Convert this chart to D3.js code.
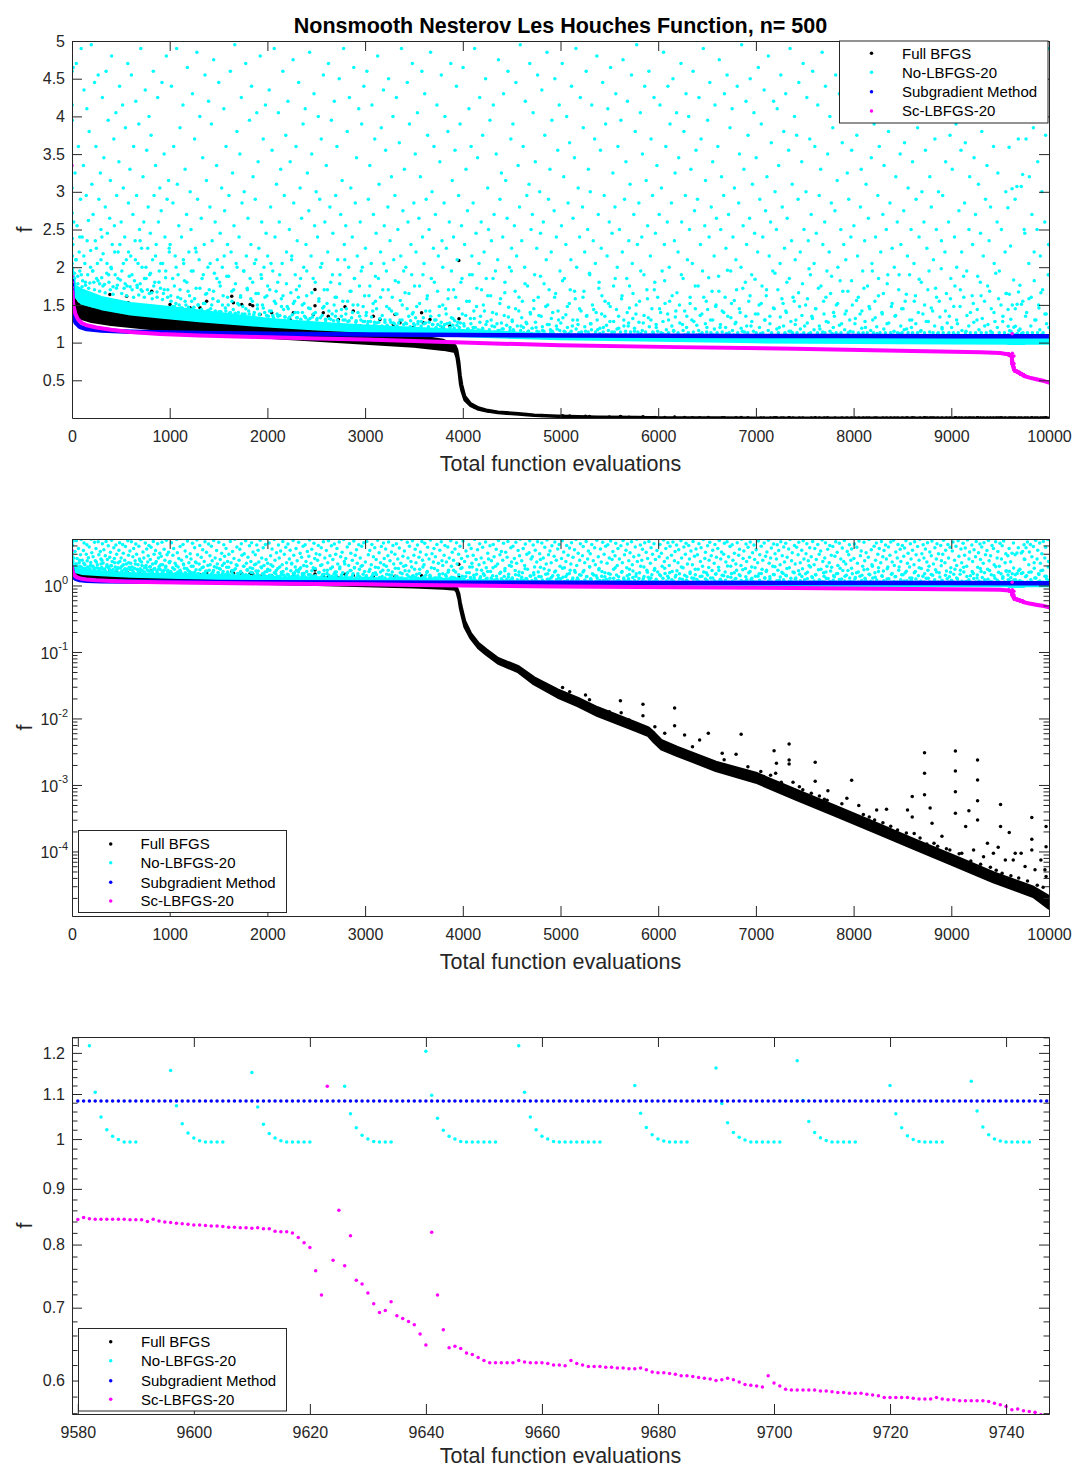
<!DOCTYPE html>
<html>
<head>
<meta charset="utf-8">
<script src="https://cdn.jsdelivr.net/npm/d3@7"></script>
<style>
  body { margin: 0; background: #fff; }
  svg { display: block; font-family: "Liberation Sans", Arial, Helvetica, sans-serif; }
</style>
</head>
<body>
<svg id="chart" width="1076" height="1468"></svg>
<script>
// ---------------- data ----------------
const seriesNames = ["Full BFGS", "No-LBFGS-20", "Subgradient Method", "Sc-LBFGS-20"];
const seriesColors = ["#000000", "#00ffff", "#0000ff", "#ff00ff"];

const evalTicks = [0, 1000, 2000, 3000, 4000, 5000, 6000, 7000, 8000, 9000, 10000];
const linearFTicks = [0.5, 1, 1.5, 2, 2.5, 3, 3.5, 4, 4.5, 5];
const logFTicks = [1e-4, 1e-3, 1e-2, 1e-1, 1];
const windowEvalTicks = [9580, 9600, 9620, 9640, 9660, 9680, 9700, 9720, 9740];
const windowFTicks = [0.6, 0.7, 0.8, 0.9, 1, 1.1, 1.2];

// Full BFGS: dense band [evaluation, lower f, upper f]
const bfgsBand = [
  [0,1.55,1.75],[10,1.42,1.62],[50,1.36,1.52],[100,1.32,1.49],[200,1.28,1.45],[400,1.24,1.41],
  [700,1.2,1.37],[1000,1.16,1.33],[1500,1.11,1.28],[2000,1.07,1.24],[2500,1.03,1.2],[3000,0.99,1.15],
  [3500,0.95,1.09],[3800,0.91,1.03],[3920,0.88,0.96],[3940,0.8,0.9],[3960,0.62,0.75],[3975,0.45,0.56],
  [3990,0.36,0.44],[4020,0.24,0.29],[4080,0.163,0.19],[4160,0.115,0.135],[4240,0.092,0.108],
  [4360,0.068,0.08],[4570,0.05,0.06],[4730,0.033,0.041],[4970,0.021,0.027],[5180,0.0155,0.02],
  [5380,0.011,0.0145],[5780,0.0065,0.0085],[5900,0.0055,0.0072],[5960,0.0044,0.006],[6030,0.0035,0.0047],
  [6190,0.0028,0.0037],[6590,0.00165,0.0022],[7000,0.0011,0.0015],[7400,0.00062,0.00085],
  [7810,0.00035,0.00048],[8220,0.000195,0.00027],[8620,0.00011,0.00015],[9030,0.000062,0.000085],
  [9430,0.000035,0.000048],[9840,0.000021,0.000029],[10000,0.000014,0.000021]
];
// Full BFGS: scattered evaluations above the band
const bfgsScatter = [
  [201,1.616],[218,1.35],[286,1.528],[320,1.572],[388,1.638],[457,1.55],[491,1.44],[559,1.616],[576,1.528],
  [611,1.44],[696,1.484],[730,1.374],[816,1.682],[833,1.462],[900,1.35],[1003,1.506],[1071,1.396],
  [1191,1.44],[1208,1.462],[1310,1.462],[1378,1.55],[1481,1.374],[1549,1.33],[1635,1.616],[1652,1.528],
  [1737,1.506],[1788,1.33],[1822,1.506],[1850,1.49],[1925,1.374],[1993,1.307],[2044,1.396],[2129,1.285],
  [2231,1.307],[2266,1.396],[2368,1.263],[2470,1.374],[2487,1.705],[2487,1.49],[2572,1.396],[2623,1.351],
  [2726,1.307],[2794,1.475],[2879,1.418],[2948,1.22],[3084,1.35],[3152,1.307],[3289,1.24],[3306,1.374],
  [3357,1.263],[3494,1.2],[3578,1.396],[3596,1.263],[3664,1.307],[3800,1.2],[3868,1.22],[3959,2.09],[3961,1.317],
  [4122,0.143],[4263,0.0901],[4446,0.0637],[4648,0.0451],[4811,0.0339],[5021,0.0291],[5094,0.0253],
  [5256,0.0226],[5297,0.0191],[5500,0.0126],[5613,0.0185],[5621,0.0122],[5702,0.0095],[5844,0.0163],
  [5844,0.011],[5966,0.0075],[6067,0.006],[6168,0.0144],[6168,0.0078],[6270,0.00565],[6351,0.00377],
  [6424,0.00475],[6513,0.006],[6655,0.003],[6675,0.00239],[6797,0.00289],[6849,0.00578],[6918,0.00188],
  [7080,0.00134],[7186,0.00328],[7202,0.0015],[7210,0.00212],[7283,0.00094],[7340,0.00413],[7340,0.00238],
  [7340,0.00207],[7445,0.00094],[7567,0.00075],[7607,0.00219],[7607,0.00114],[7729,0.00059],[7737,0.00082],
  [7810,0.00047],[7931,0.00063],[7980,0.00118],[8012,0.00033],[8053,0.00049],[8134,0.00026],[8215,0.000297],
  [8236,0.00042],[8337,0.00043],[8418,0.000187],[8499,0.00015],[8552,0.00042],[8600,0.00067],[8600,0.00033],
  [8620,0.000187],[8726,0.00306],[8726,0.0015],[8726,0.00071],[8783,0.00045],[8803,0.000265],[8823,0.000133],
  [8904,0.00017],[8985,0.000105],[9042,0.00324],[9042,0.00162],[9042,0.00079],[9042,0.000375],[9107,0.000094],
  [9147,0.000237],[9180,0.00041],[9228,0.000105],[9269,0.00238],[9269,0.00119],[9269,0.00058],[9269,0.000298],
  [9330,0.0000835],[9370,0.000133],[9431,0.000094],[9480,0.000116],[9504,0.00051],[9504,0.000237],
  [9553,0.0000745],[9593,0.000192],[9634,0.0000745],[9654,0.000094],[9715,0.000094],[9755,0.0000594],
  [9824,0.000323],[9824,0.000152],[9824,0.000105],[9857,0.000053],[9917,0.0000745],[9958,0.000053],
  [9970,0.000237],[9970,0.000118],[9970,0.0000419],
  [7050,0.0016],[7150,0.0014],[7260,0.0011],[7380,0.0011],[7480,0.00085],[7650,0.00068],[7700,0.00061],
  [7880,0.00052],[8100,0.00036],[8160,0.00033],[8300,0.00027],[8380,0.00024],[8450,0.00021],[8540,0.00019],
  [8680,0.00016],[8750,0.00013],[8860,0.00012],[8950,0.00011],[9080,0.000092],[9200,0.000072],[9300,0.000064],
  [9400,0.000058],[9460,0.000052],[9520,0.000047],[9610,0.000043],[9690,0.00004],[9780,0.000036],
  [9880,0.000031],[9940,0.000029]
];

// No-LBFGS-20: lowest values of each restart cycle (band floor and crest)
const noLbfgsFloor = [
  [0,1.9],[30,1.62],[100,1.52],[300,1.45],[600,1.38],[900,1.34],[1300,1.29],[2000,1.22],[2500,1.18],
  [3000,1.15],[3500,1.12],[4000,1.09],[5000,1.05],[6000,1.03],[7000,1.01],[8000,1.0],[9000,0.995],[10000,0.99]
];
const noLbfgsCrest = [
  [0,2.0],[30,1.75],[100,1.7],[300,1.6],[600,1.52],[900,1.48],[1300,1.42],[2000,1.31],[2500,1.26],
  [3000,1.22],[3500,1.19],[4000,1.16],[5000,1.1],[6000,1.07],[7000,1.05],[8000,1.045],[9000,1.04],[10000,1.04]
];
// No-LBFGS-20: scattered evaluations above the band
const noLbfgsCloud = [
  [1,4.6],[2,4.15],[3,3.95],[1,3.05],[2,2.72],[3,2.38],[4,2.15],[2,2.05],[6,1.98],[12,4.65],[18,2.6],[25,1.92],[31,3.25],[38,2.1],[44,4.7],[52,2.55],[58,1.88],[66,3.6],[73,2.2],[80,1.95],[87,2.9],[94,4.9],
  [104,2.4],[109,1.82],[117,3.35],[123,4.35],[131,2.05],[138,1.76],[146,2.95],[152,4.1],[161,1.9],[168,2.62],[176,3.8],[183,1.79],[191,2.22],[197,4.95],
  [203,3.1],[210,1.95],[216,2.7],[224,1.8],[231,4.45],[239,2.35],[245,3.6],[252,1.85],[260,2.05],[268,4.55],[275,2.9],[283,1.78],[290,3.25],[296,2.5],
  [304,1.86],[311,4.25],[318,2.18],[326,3.45],[333,1.77],[341,2.8],[349,4.6],[356,1.92],[362,2.45],[371,3.95],[378,1.8],[386,2.65],[393,3.15],[399,2.0],
  [405,4.8],[412,2.3],[420,1.74],[428,3.7],[434,2.55],[442,1.9],[449,4.05],[457,2.95],[464,1.76],[472,2.2],[480,3.4],[487,4.4],[495,1.83],
  [503,2.6],[510,1.95],[518,4.15],[525,3.05],[533,1.72],[540,2.4],[547,3.85],[556,2.1],[563,1.75],[571,4.7],[578,2.85],[586,1.88],[593,3.3],
  [601,2.15],[608,4.55],[616,1.7],[623,2.7],[631,3.6],[639,1.82],[646,2.35],[653,4.2],[661,2.95],[668,1.73],[676,2.05],[684,3.9],[691,2.5],[698,1.78],
  [704,4.9],[712,2.25],[719,1.68],[727,3.2],[735,2.6],[742,1.85],[750,4.35],[757,2.0],[765,3.55],[772,1.7],[780,2.8],[788,4.0],[795,1.9],
  [802,2.45],[809,3.75],[817,1.66],[825,2.1],[832,4.6],[840,2.95],[847,1.8],[855,3.35],[862,2.3],[870,1.67],[877,4.25],[885,2.6],[893,1.95],[899,3.05],
  [906,1.72],[913,2.75],[921,4.45],[928,2.05],[936,1.65],[943,3.5],[951,2.4],[958,1.86],[966,4.8],[973,2.9],[981,1.7],[988,3.15],[996,2.2],
  [1004,2.3],[1011,1.62],[1018,4.4],[1026,1.48],[1033,2.85],[1041,3.6],[1048,1.75],[1056,2.15],[1063,1.52],[1071,4.9],[1078,3.1],[1086,1.9],[1093,2.55],[1099,1.45],
  [1106,3.85],[1113,1.58],[1121,2.4],[1128,1.46],[1136,4.15],[1143,2.05],[1151,1.82],[1158,3.3],[1166,1.5],[1173,2.7],[1181,4.65],[1188,1.68],[1196,2.2],
  [1203,1.44],[1210,3.0],[1218,2.5],[1225,1.55],[1233,4.3],[1240,1.95],[1248,1.47],[1255,3.7],[1263,2.25],[1270,1.72],[1278,4.85],[1285,2.9],[1293,1.5],
  [1301,2.1],[1308,4.0],[1316,1.43],[1323,2.65],[1331,1.85],[1338,3.45],[1346,1.52],[1353,2.3],[1361,4.55],[1368,1.64],[1376,3.15],[1383,1.42],[1391,2.0],[1398,4.2],
  [1405,1.7],[1412,2.8],[1420,1.45],[1427,3.9],[1435,2.35],[1442,1.58],[1450,4.75],[1457,1.92],[1465,2.6],[1472,1.4],[1480,3.35],[1487,2.1],[1495,1.55],
  [1502,4.45],[1509,1.8],[1517,2.45],[1524,1.41],[1532,3.05],[1539,2.0],[1547,1.62],[1554,4.1],[1562,2.75],[1569,1.46],[1577,3.6],[1584,1.88],[1592,2.3],[1599,1.5],
  [1606,2.95],[1613,1.39],[1621,4.6],[1628,2.2],[1636,1.68],[1643,3.25],[1651,1.44],[1658,2.55],[1666,4.95],[1673,1.78],[1681,2.05],[1688,3.8],[1696,1.52],
  [1703,1.4],[1710,2.4],[1718,3.5],[1725,1.6],[1733,4.25],[1740,2.85],[1748,1.48],[1755,1.95],[1763,3.0],[1770,1.38],[1778,4.7],[1785,2.15],[1793,1.72],
  [1801,2.65],[1808,1.42],[1816,3.95],[1823,1.85],[1831,2.3],[1838,4.4],[1846,1.55],[1853,3.2],[1861,1.37],[1868,2.05],[1876,2.9],[1883,1.65],[1891,4.05],[1898,1.45],
  [1905,3.4],[1912,2.25],[1920,1.38],[1927,4.8],[1935,1.9],[1942,2.6],[1950,1.5],[1957,3.7],[1965,2.0],[1972,1.4],[1980,4.15],[1987,2.45],[1995,1.62],
  [2003,2.15],[2010,1.35],[2018,4.35],[2025,1.7],[2033,2.8],[2040,1.42],[2048,3.55],[2055,1.95],[2063,1.33],[2070,4.9],[2078,2.4],[2085,1.52],[2093,3.1],[2099,1.38],
  [2106,1.8],[2113,4.05],[2121,2.6],[2128,1.36],[2136,3.3],[2143,1.58],[2151,2.05],[2158,4.6],[2166,1.44],[2173,2.95],[2181,1.34],[2188,3.75],[2196,2.2],
  [2203,1.48],[2210,4.2],[2218,1.32],[2225,2.5],[2233,3.4],[2240,1.66],[2248,2.1],[2255,1.37],[2263,4.75],[2270,2.85],[2278,1.55],[2285,1.9],[2293,3.6],[2299,1.33],
  [2305,2.35],[2312,1.4],[2320,4.45],[2327,1.75],[2335,3.05],[2342,1.31],[2350,2.65],[2357,1.5],[2365,3.9],[2372,2.0],[2380,1.35],[2387,4.1],[2395,2.3],
  [2402,1.62],[2409,3.25],[2417,1.3],[2424,2.75],[2432,4.85],[2439,1.45],[2447,2.15],[2454,3.5],[2462,1.34],[2469,1.85],[2477,4.3],[2484,2.55],[2492,1.4],[2499,3.0],
  [2506,1.3],[2513,2.4],[2521,4.0],[2528,1.58],[2536,2.9],[2543,1.33],[2551,3.7],[2558,2.05],[2566,1.46],[2573,4.55],[2581,1.7],[2588,2.6],[2596,1.29],
  [2603,3.35],[2610,1.52],[2618,2.2],[2625,4.7],[2633,1.32],[2640,2.8],[2648,1.8],[2655,3.95],[2663,1.38],[2670,2.45],[2678,1.29],[2685,4.2],[2693,1.6],[2699,2.95],
  [2705,1.42],[2712,3.6],[2720,2.1],[2727,1.28],[2735,4.5],[2742,1.9],[2750,2.7],[2757,1.35],[2765,3.15],[2772,1.55],[2780,4.9],[2787,2.3],[2795,1.3],
  [2802,2.55],[2809,1.45],[2817,3.8],[2824,1.28],[2832,2.0],[2839,4.25],[2847,1.68],[2854,3.05],[2862,1.33],[2869,2.4],[2877,1.5],[2884,4.65],[2892,1.85],[2899,2.85],
  [2905,1.27],[2912,3.45],[2920,2.15],[2927,1.4],[2935,4.1],[2942,1.75],[2950,2.6],[2957,1.3],[2965,3.9],[2972,2.0],[2980,1.48],[2987,4.4],[2995,1.28],
  [3003,2.25],[3010,1.36],[3018,4.6],[3025,1.24],[3033,2.9],[3040,1.62],[3048,3.35],[3055,1.28],[3063,2.05],[3070,4.15],[3078,1.42],[3085,2.7],[3093,1.23],[3099,3.7],
  [3106,1.55],[3113,2.45],[3121,1.26],[3128,4.8],[3136,1.85],[3143,3.1],[3151,1.32],[3158,2.2],[3166,3.85],[3173,1.22],[3181,1.7],[3188,4.35],[3196,2.55],
  [3203,1.3],[3210,3.55],[3218,1.95],[3225,1.23],[3233,2.8],[3240,4.5],[3248,1.45],[3255,2.35],[3263,1.27],[3270,3.2],[3278,1.6],[3285,4.0],[3293,2.1],[3299,1.25],
  [3305,2.95],[3312,1.38],[3320,4.25],[3327,1.22],[3335,2.5],[3342,1.8],[3350,3.65],[3357,1.3],[3365,2.15],[3372,4.9],[3380,1.5],[3387,2.75],[3395,1.24],
  [3402,3.3],[3409,1.66],[3417,2.0],[3424,1.25],[3432,4.45],[3439,2.6],[3447,1.35],[3454,3.9],[3462,1.21],[3469,2.3],[3477,1.9],[3484,4.7],[3492,1.4],[3499,2.85],
  [3506,1.23],[3513,3.5],[3521,2.2],[3528,1.48],[3536,4.05],[3543,1.28],[3551,2.65],[3558,1.75],[3566,3.2],[3573,1.22],[3581,4.6],[3588,2.4],[3596,1.33],
  [3603,2.05],[3610,4.3],[3618,1.26],[3625,2.9],[3633,1.58],[3640,3.75],[3648,1.21],[3655,2.5],[3663,1.42],[3670,4.85],[3678,1.85],[3685,3.0],[3693,1.24],[3699,2.25],
  [3705,3.6],[3712,1.3],[3720,2.7],[3727,1.2],[3735,4.15],[3742,1.68],[3750,2.15],[3757,1.36],[3765,3.4],[3772,1.22],[3780,4.55],[3787,2.35],[3795,1.5],
  [3802,1.21],[3809,2.85],[3817,4.0],[3824,1.45],[3832,2.25],[3839,1.25],[3847,3.8],[3854,1.7],[3862,2.6],[3869,1.2],[3877,4.7],[3884,1.95],[3892,3.15],[3899,1.32],
  [3905,2.4],[3912,1.19],[3920,3.55],[3927,1.6],[3935,4.4],[3942,2.1],[3950,1.27],[3957,2.95],[3965,1.2],[3972,3.9],[3980,1.8],[3987,2.55],[3995,1.38],
  [4003,4.65],[4010,1.25],[4018,2.3],[4025,1.15],[4033,3.3],[4040,1.55],[4048,2.75],[4055,1.18],[4063,4.1],[4070,1.9],[4078,1.32],[4085,3.6],[4093,2.15],[4099,1.16],
  [4106,2.85],[4113,1.42],[4121,4.9],[4128,1.2],[4136,2.45],[4143,1.72],[4151,3.45],[4158,1.14],[4166,2.05],[4173,4.25],[4181,1.35],[4188,2.6],[4196,1.17],
  [4203,3.75],[4210,1.5],[4218,2.2],[4225,1.15],[4233,4.5],[4240,1.85],[4248,1.28],[4255,3.05],[4263,2.5],[4270,1.13],[4278,3.95],[4285,1.62],[4293,2.35],[4299,1.22],
  [4305,1.4],[4312,4.15],[4320,2.7],[4327,1.14],[4335,1.95],[4342,3.5],[4350,1.25],[4357,2.1],[4365,4.75],[4372,1.16],[4380,2.9],[4387,1.58],[4395,3.25],
  [4402,1.18],[4409,2.4],[4417,4.3],[4424,1.36],[4432,1.8],[4439,3.15],[4447,1.13],[4454,2.65],[4462,4.6],[4469,1.47],[4477,2.0],[4484,1.2],[4492,3.7],[4499,2.25],
  [4506,1.3],[4513,3.9],[4521,1.15],[4528,2.55],[4536,1.68],[4543,4.45],[4551,2.15],[4558,1.12],[4566,3.35],[4573,1.42],[4581,2.8],[4588,4.95],[4596,1.22],
  [4603,2.35],[4610,1.55],[4618,3.6],[4625,1.13],[4633,2.0],[4640,4.2],[4648,1.27],[4655,2.95],[4663,1.75],[4670,1.15],[4678,3.1],[4685,4.7],[4693,1.38],[4699,2.5],
  [4705,1.12],[4712,2.7],[4720,4.05],[4727,1.45],[4735,1.9],[4742,3.4],[4750,1.2],[4757,2.25],[4765,4.55],[4772,1.6],[4780,1.14],[4787,3.0],[4795,2.45],
  [4802,1.35],[4809,4.35],[4817,1.16],[4824,2.6],[4832,1.78],[4839,3.75],[4847,1.11],[4854,2.1],[4862,4.85],[4869,1.5],[4877,2.9],[4884,1.24],[4892,3.3],[4899,1.13],
  [4905,2.2],[4912,3.95],[4920,1.4],[4927,1.12],[4935,2.75],[4942,4.5],[4950,1.65],[4957,2.4],[4965,1.18],[4972,3.55],[4980,1.3],[4987,4.15],[4995,1.95],
  [5003,1.11],[5010,2.55],[5018,4.7],[5025,1.33],[5033,3.2],[5040,1.85],[5048,1.14],[5055,2.3],[5063,4.0],[5070,1.48],[5078,2.85],[5085,1.12],[5093,3.65],[5099,1.7],
  [5106,2.1],[5113,4.4],[5121,1.22],[5128,2.65],[5136,1.1],[5143,3.45],[5151,1.58],[5158,4.9],[5166,2.0],[5173,1.3],[5181,3.05],[5188,1.13],[5196,2.4],
  [5203,4.25],[5210,1.42],[5218,1.11],[5225,2.8],[5233,3.85],[5240,1.68],[5248,2.2],[5255,1.15],[5263,4.6],[5270,1.36],[5278,2.5],[5285,3.3],[5293,1.1],[5299,1.9],
  [5305,3.0],[5312,1.25],[5320,4.15],[5327,1.5],[5335,2.35],[5342,1.1],[5350,3.7],[5357,2.05],[5365,1.4],[5372,4.8],[5380,1.17],[5387,2.7],[5395,1.8],
  [5402,1.12],[5409,3.55],[5417,2.25],[5424,1.62],[5432,4.45],[5439,1.2],[5447,2.95],[5454,1.35],[5462,3.9],[5469,1.1],[5477,2.15],[5484,4.1],[5492,1.52],[5499,2.6],
  [5506,1.28],[5513,4.65],[5521,1.1],[5528,2.45],[5536,3.25],[5543,1.75],[5551,1.14],[5558,2.8],[5566,4.3],[5573,1.44],[5581,2.0],[5588,3.6],[5596,1.19],
  [5603,2.5],[5610,1.09],[5618,3.95],[5625,1.58],[5633,2.2],[5640,4.75],[5648,1.3],[5655,2.9],[5663,1.11],[5670,3.4],[5678,1.85],[5685,4.2],[5693,1.22],[5699,2.35],
  [5705,1.46],[5712,3.1],[5720,1.1],[5727,4.55],[5735,2.05],[5742,1.65],[5750,2.7],[5757,1.15],[5765,3.8],[5772,1.38],[5780,4.95],[5787,2.3],[5795,1.1],
  [5802,2.85],[5809,1.55],[5817,4.05],[5824,1.12],[5832,2.4],[5839,3.5],[5847,1.26],[5854,1.9],[5862,4.4],[5869,1.09],[5877,3.15],[5884,1.7],[5892,2.55],[5899,1.33],
  [5905,4.6],[5912,1.1],[5920,2.15],[5927,3.7],[5935,1.45],[5942,2.95],[5950,1.13],[5957,4.25],[5965,1.8],[5972,2.45],[5980,1.2],[5987,3.35],[5995,1.6],
  [6003,1.09],[6010,2.7],[6018,4.15],[6025,1.4],[6033,3.05],[6040,1.95],[6048,1.12],[6055,4.85],[6063,2.3],[6070,1.52],[6078,3.6],[6085,1.1],[6093,2.6],[6099,4.4],
  [6106,1.3],[6113,2.0],[6121,3.9],[6128,1.08],[6136,2.85],[6143,1.62],[6151,4.5],[6158,1.16],[6166,2.35],[6173,3.25],[6181,1.42],[6188,4.05],[6196,1.1],
  [6203,2.2],[6210,3.45],[6218,1.5],[6225,1.09],[6233,4.7],[6240,2.6],[6248,1.24],[6255,1.85],[6263,3.8],[6270,1.1],[6278,2.95],[6285,4.3],[6293,1.35],[6299,2.1],
  [6305,1.12],[6312,4.0],[6320,2.5],[6327,1.6],[6335,3.3],[6342,1.08],[6350,2.05],[6357,4.6],[6365,1.28],[6372,2.75],[6380,1.45],[6387,3.55],[6395,1.1],
  [6402,2.9],[6409,1.75],[6417,4.25],[6424,1.11],[6432,2.3],[6439,3.7],[6447,1.38],[6454,1.95],[6462,4.9],[6469,1.09],[6477,2.55],[6484,3.15],[6492,1.55],[6499,1.2],
  [6506,3.95],[6513,1.09],[6521,2.4],[6528,4.45],[6536,1.3],[6543,2.8],[6551,1.68],[6558,3.4],[6566,1.1],[6573,2.15],[6581,4.15],[6588,1.48],[6596,2.65],
  [6603,1.08],[6610,3.6],[6618,1.88],[6625,4.75],[6633,1.2],[6640,2.5],[6648,3.2],[6655,1.42],[6663,1.09],[6670,2.95],[6678,4.3],[6685,1.6],[6693,2.25],[6699,1.12],
  [6705,4.55],[6712,1.35],[6720,2.7],[6727,1.08],[6735,3.85],[6742,1.95],[6750,1.52],[6757,4.1],[6765,2.4],[6772,1.1],[6780,3.05],[6787,1.25],[6795,2.1],
  [6802,1.7],[6809,4.4],[6817,1.09],[6824,2.85],[6832,3.5],[6839,1.4],[6847,2.0],[6854,4.95],[6862,1.15],[6869,2.55],[6877,3.3],[6884,1.08],[6892,1.8],[6899,4.2],
  [6905,2.3],[6912,1.1],[6920,3.75],[6927,1.55],[6935,2.65],[6942,4.5],[6950,1.22],[6957,1.9],[6965,3.1],[6972,1.08],[6980,4.05],[6987,2.45],[6995,1.38],
  [7003,3.45],[7010,1.08],[7018,2.2],[7025,4.65],[7033,1.5],[7040,2.9],[7048,1.12],[7055,3.9],[7063,1.75],[7070,2.4],[7078,1.09],[7085,4.35],[7093,1.3],[7099,2.75],
  [7106,1.62],[7113,3.2],[7121,1.08],[7128,4.8],[7136,2.15],[7143,1.35],[7151,2.6],[7158,3.65],[7166,1.1],[7173,1.95],[7181,4.2],[7188,1.45],[7196,3.0],
  [7203,1.09],[7210,2.5],[7218,4.1],[7225,1.7],[7233,3.35],[7240,1.2],[7248,2.05],[7255,4.55],[7263,1.08],[7270,2.8],[7278,1.52],[7285,3.8],[7293,2.25],[7299,1.11],
  [7305,4.3],[7312,1.4],[7320,2.65],[7327,1.08],[7335,3.55],[7342,1.85],[7350,4.9],[7357,1.15],[7365,2.35],[7372,3.1],[7380,1.6],[7387,1.09],[7395,4.0],
  [7402,2.1],[7409,1.3],[7417,3.75],[7424,1.08],[7432,2.9],[7439,4.45],[7447,1.48],[7454,2.2],[7462,1.1],[7469,3.4],[7477,1.78],[7484,4.7],[7492,2.5],[7499,1.22],
  [7506,1.08],[7513,3.0],[7521,4.25],[7528,1.58],[7536,2.35],[7543,1.12],[7551,3.7],[7558,1.9],[7566,2.7],[7573,1.35],[7581,4.6],[7588,1.09],[7596,2.05],
  [7603,3.6],[7610,1.45],[7618,2.45],[7625,1.08],[7633,4.15],[7640,1.72],[7648,2.95],[7655,1.18],[7663,3.3],[7670,1.1],[7678,4.85],[7685,2.3],[7693,1.55],[7699,1.08],
  [7705,2.6],[7712,4.4],[7720,1.28],[7727,1.95],[7735,3.5],[7742,1.09],[7750,2.2],[7757,4.0],[7765,1.65],[7772,2.85],[7780,1.12],[7787,3.85],[7795,1.4],
  [7802,1.08],[7809,2.75],[7817,4.55],[7824,1.5],[7832,3.15],[7839,2.0],[7847,1.1],[7854,4.3],[7862,1.82],[7869,2.5],[7877,1.25],[7884,3.65],[7892,1.08],[7899,2.3],
  [7905,4.75],[7912,1.38],[7920,2.1],[7927,1.08],[7935,3.25],[7942,1.68],[7950,2.9],[7957,4.1],[7965,1.15],[7972,2.4],[7980,3.55],[7987,1.5],[7995,1.09],
  [8003,2.55],[8010,4.2],[8018,1.32],[8025,1.08],[8033,3.75],[8040,2.15],[8048,1.6],[8055,4.65],[8063,1.1],[8070,2.8],[8078,3.3],[8085,1.42],[8093,1.95],[8099,1.08],
  [8106,4.45],[8113,2.35],[8121,1.2],[8128,3.1],[8136,1.08],[8143,1.75],[8151,2.65],[8158,4.9],[8166,1.45],[8173,1.09],[8181,3.45],[8188,2.05],[8196,1.3],
  [8203,1.08],[8210,3.9],[8218,1.55],[8225,2.4],[8233,4.35],[8240,1.12],[8248,2.95],[8255,1.85],[8263,3.6],[8270,1.08],[8278,2.2],[8285,4.6],[8293,1.38],[8299,2.7],
  [8305,1.65],[8312,3.35],[8320,1.09],[8327,4.05],[8335,2.5],[8342,1.25],[8350,1.9],[8357,3.8],[8365,1.08],[8372,2.85],[8380,4.5],[8387,1.48],[8395,2.25],
  [8402,1.1],[8409,4.8],[8417,2.0],[8424,1.35],[8432,3.2],[8439,1.08],[8447,2.6],[8454,4.15],[8462,1.7],[8469,1.12],[8477,3.5],[8484,2.3],[8492,1.45],[8499,4.0],
  [8506,1.08],[8513,2.75],[8521,3.65],[8528,1.55],[8536,4.7],[8543,1.18],[8551,2.15],[8558,3.05],[8566,1.08],[8573,1.9],[8581,4.25],[8588,2.5],[8596,1.3],
  [8603,3.4],[8610,1.1],[8618,2.05],[8625,4.55],[8633,1.62],[8640,2.9],[8648,1.08],[8655,3.85],[8663,1.4],[8670,2.4],[8678,4.95],[8685,1.15],[8693,1.8],[8699,3.0],
  [8705,1.08],[8712,4.1],[8720,2.6],[8727,1.5],[8735,3.55],[8742,1.09],[8750,2.25],[8757,4.4],[8765,1.28],[8772,1.95],[8780,3.2],[8787,1.08],[8795,2.8],
  [8802,4.65],[8809,1.42],[8817,2.1],[8824,1.08],[8832,3.7],[8839,1.72],[8847,2.5],[8854,4.25],[8862,1.12],[8869,3.0],[8877,1.55],[8884,1.08],[8892,4.0],[8899,2.35],
  [8905,1.2],[8912,2.95],[8920,4.8],[8927,1.08],[8935,2.2],[8942,3.4],[8950,1.65],[8957,1.1],[8965,4.15],[8972,2.6],[8980,1.35],[8987,3.75],[8995,1.85],
  [9003,1.08],[9010,3.3],[9018,4.5],[9025,1.48],[9033,2.4],[9040,1.1],[9048,3.9],[9055,2.0],[9063,1.25],[9070,4.7],[9078,2.75],[9085,1.08],[9093,1.7],[9099,3.55],
  [9106,2.2],[9113,1.08],[9121,4.3],[9128,1.6],[9136,2.85],[9143,3.65],[9151,1.15],[9158,1.95],[9166,4.85],[9173,1.08],[9181,2.5],[9188,3.2],[9196,1.4],
  [9203,1.09],[9210,4.05],[9218,2.3],[9225,1.52],[9233,3.45],[9240,1.08],[9248,2.7],[9255,4.6],[9263,1.3],[9270,1.88],[9278,3.1],[9285,1.08],[9293,4.2],[9299,2.45],
  [9305,1.62],[9312,3.8],[9320,1.08],[9327,2.15],[9335,4.4],[9342,1.22],[9350,2.9],[9357,1.08],[9365,3.35],[9372,1.75],[9380,4.75],[9387,2.35],[9395,1.1],
  [9402,2.8],[9409,1.45],[9417,4.0],[9424,1.08],[9432,3.6],[9439,2.05],[9447,1.28],[9454,4.55],[9462,1.08],[9469,2.6],[9477,3.25],[9484,1.58],[9492,1.95],[9499,4.3],
  [9506,1.08],[9513,2.5],[9521,3.95],[9528,1.35],[9536,4.65],[9543,1.1],[9551,2.2],[9558,3.0],[9566,1.65],[9572,1.08],
  [9752,2.45],[9758,1.08],[9765,3.7],[9771,1.4],[9779,4.5],[9786,1.1],[9793,2.05],[9799,3.2],
  [9803,1.08],[9810,4.15],[9818,1.6],[9825,2.7],[9833,1.09],[9840,3.85],[9848,2.2],[9855,1.3],[9863,4.75],[9870,1.08],[9878,2.5],[9885,3.4],[9893,1.5],[9899,1.08],
  [9905,4.35],[9912,2.15],[9920,1.1],[9927,3.0],[9935,1.7],[9942,4.6],[9950,1.08],[9957,2.6],[9965,3.75],[9972,1.38],[9980,1.08],[9987,4.9],[9995,2.3],[9999,1.2]
];
// No-LBFGS-20: the denser layer of evaluations just above the band
const noLbfgsCloudLower = [
  [9,2.3],[26,1.85],[44,2.1],[60,1.78],[79,2.4],[95,1.9],[103,1.74],[121,2.15],[137,1.8],[155,2.35],[171,1.72],[190,2.0],
  [214,1.95],[230,1.7],[249,2.25],[266,1.82],[283,1.68],[297,2.1],[306,2.4],[317,1.75],[340,1.66],[358,2.05],[375,1.9],[392,1.7],
  [403,1.98],[421,1.64],[437,2.2],[455,1.72],[471,1.85],[490,2.3],[509,1.65],[526,2.05],[544,1.78],[560,1.62],[579,2.2],[595,1.74],
  [614,1.9],[630,1.6],[649,2.1],[666,1.76],[683,1.63],[697,2.35],[706,1.7],[717,2.0],[740,1.6],[758,1.85],[775,2.25],[792,1.65],
  [803,1.92],[821,1.58],[837,1.75],[855,2.15],[871,1.6],[890,1.8],[909,2.05],[926,1.57],[944,1.7],[960,1.95],[979,1.6],[995,2.25],
  [1014,1.55],[1030,1.85],[1049,1.48],[1066,2.0],[1083,1.6],[1097,1.5],[1106,1.7],[1117,1.46],[1140,2.1],[1158,1.55],[1175,1.8],[1192,1.47],
  [1203,1.62],[1221,1.95],[1237,1.45],[1255,1.58],[1271,2.2],[1290,1.5],[1309,1.72],[1326,1.44],[1344,1.9],[1360,1.52],[1379,1.65],[1395,1.43],
  [1414,2.05],[1430,1.5],[1449,1.68],[1466,1.42],[1483,1.85],[1497,1.55],[1506,1.41],[1517,1.75],[1540,1.5],[1558,2.15],[1575,1.42],[1592,1.6],
  [1603,1.88],[1621,1.4],[1637,1.55],[1655,1.7],[1671,1.39],[1690,2.0],[1709,1.5],[1726,1.62],[1744,1.38],[1760,1.95],[1779,1.45],[1795,1.7],
  [1814,1.38],[1830,1.58],[1849,1.8],[1866,1.4],[1883,2.1],[1897,1.5],[1906,1.65],[1917,1.37],[1940,1.85],[1958,1.46],[1975,1.6],[1992,1.36],
  [2003,1.75],[2021,1.42],[2037,2.05],[2055,1.36],[2071,1.55],[2090,1.68],[2109,1.35],[2126,1.9],[2144,1.48],[2160,1.62],[2179,1.34],[2195,1.78],
  [2214,1.45],[2230,1.34],[2249,2.15],[2266,1.52],[2283,1.4],[2297,1.7],[2306,1.33],[2317,1.6],[2340,1.85],[2358,1.4],[2375,1.52],[2392,1.33],
  [2403,1.95],[2421,1.46],[2437,1.32],[2455,1.66],[2471,1.38],[2490,1.8],[2509,1.32],[2526,1.55],[2544,2.0],[2560,1.36],[2579,1.48],[2595,1.31],
  [2614,1.7],[2630,1.42],[2649,1.31],[2666,1.9],[2683,1.5],[2697,1.35],[2706,1.6],[2717,1.3],[2740,1.78],[2758,1.44],[2775,1.3],[2792,2.1],
  [2803,1.38],[2821,1.55],[2837,1.29],[2855,1.68],[2871,1.4],[2890,1.85],[2909,1.29],[2926,1.5],[2944,1.35],[2960,1.95],[2979,1.28],[2995,1.62],
  [3014,1.4],[3030,1.28],[3049,1.75],[3066,1.34],[3083,1.52],[3097,1.27],[3106,1.88],[3117,1.45],[3140,1.27],[3158,1.6],[3175,1.36],[3192,2.05],
  [3203,1.27],[3221,1.48],[3237,1.7],[3255,1.3],[3271,1.42],[3290,1.26],[3309,1.82],[3326,1.38],[3344,1.26],[3360,1.56],[3379,1.3],[3395,1.95],
  [3414,1.26],[3430,1.45],[3449,1.65],[3466,1.29],[3483,1.38],[3497,1.25],[3506,1.75],[3517,1.33],[3540,1.25],[3558,1.52],[3575,1.28],[3592,1.9],
  [3603,1.25],[3621,1.42],[3637,1.62],[3655,1.27],[3671,1.35],[3690,1.24],[3709,1.8],[3726,1.3],[3744,1.24],[3760,1.48],[3779,1.27],[3795,2.0],
  [3814,1.24],[3830,1.38],[3849,1.58],[3866,1.26],[3883,1.33],[3897,1.23],[3906,1.7],[3917,1.29],[3940,1.23],[3958,1.45],[3975,1.26],[3992,1.85],
  [4014,1.22],[4030,1.36],[4049,1.18],[4066,1.55],[4083,1.25],[4097,1.9],[4106,1.2],[4117,1.32],[4140,1.48],[4158,1.17],[4175,1.27],[4192,1.7],
  [4203,1.19],[4221,1.42],[4237,1.24],[4255,1.62],[4271,1.17],[4290,1.3],[4309,1.85],[4326,1.21],[4344,1.38],[4360,1.16],[4379,1.52],[4395,1.26],
  [4414,1.18],[4430,1.66],[4449,1.23],[4466,1.34],[4483,1.16],[4497,1.95],[4506,1.28],[4517,1.17],[4540,1.45],[4558,1.22],[4575,1.6],[4592,1.16],
  [4603,1.33],[4621,1.2],[4637,1.78],[4655,1.25],[4671,1.15],[4690,1.4],[4709,1.19],[4726,1.56],[4744,1.27],[4760,1.15],[4779,1.36],[4795,1.88],
  [4814,1.21],[4830,1.15],[4849,1.48],[4866,1.24],[4883,1.7],[4897,1.17],[4906,1.32],[4917,1.15],[4940,1.6],[4958,1.22],[4975,1.42],[4992,1.16],
  [5003,1.26],[5021,1.82],[5037,1.15],[5055,1.37],[5071,1.2],[5090,1.52],[5109,1.15],[5126,1.3],[5144,1.68],[5160,1.18],[5179,1.24],[5195,1.45],
  [5214,1.14],[5230,1.6],[5249,1.21],[5266,1.35],[5283,1.14],[5297,1.92],[5306,1.25],[5317,1.17],[5340,1.44],[5358,1.14],[5375,1.3],[5392,1.72],
  [5403,1.19],[5421,1.38],[5437,1.14],[5455,1.55],[5471,1.23],[5490,1.16],[5509,1.48],[5526,1.14],[5544,1.28],[5560,1.85],[5579,1.18],[5595,1.35],
  [5614,1.14],[5630,1.62],[5649,1.22],[5666,1.15],[5683,1.4],[5697,1.26],[5706,1.75],[5717,1.14],[5740,1.32],[5758,1.19],[5775,1.5],[5792,1.14],
  [5803,1.27],[5821,1.95],[5837,1.16],[5855,1.36],[5871,1.14],[5890,1.58],[5909,1.21],[5926,1.3],[5944,1.14],[5960,1.7],[5979,1.24],[5995,1.15],
  [6014,1.45],[6030,1.13],[6049,1.28],[6066,1.82],[6083,1.17],[6097,1.38],[6106,1.13],[6117,1.55],[6140,1.22],[6158,1.15],[6175,1.34],[6192,1.66],
  [6203,1.13],[6221,1.26],[6237,1.9],[6255,1.16],[6271,1.42],[6290,1.2],[6309,1.13],[6326,1.52],[6344,1.3],[6360,1.14],[6379,1.75],[6395,1.23],
  [6414,1.16],[6430,1.36],[6449,1.13],[6466,1.6],[6483,1.25],[6497,1.14],[6506,1.44],[6517,1.86],[6540,1.13],[6558,1.3],[6575,1.18],[6592,1.5],
  [6603,1.13],[6621,1.68],[6637,1.24],[6655,1.14],[6671,1.4],[6690,1.2],[6709,1.96],[6726,1.13],[6744,1.33],[6760,1.16],[6779,1.56],[6795,1.27],
  [6814,1.13],[6830,1.45],[6849,1.19],[6866,1.72],[6883,1.14],[6897,1.35],[6906,1.22],[6917,1.13],[6940,1.62],[6958,1.28],[6975,1.15],[6992,1.84],
  [7003,1.13],[7021,1.38],[7037,1.2],[7055,1.52],[7071,1.13],[7090,1.3],[7109,1.7],[7126,1.16],[7144,1.25],[7160,1.13],[7179,1.46],[7195,1.92],
  [7214,1.18],[7230,1.13],[7249,1.34],[7266,1.58],[7283,1.22],[7297,1.13],[7306,1.42],[7317,1.8],[7340,1.15],[7358,1.28],[7375,1.13],[7392,1.55],
  [7403,1.24],[7421,1.13],[7437,1.66],[7455,1.18],[7471,1.36],[7490,1.13],[7509,1.5],[7526,1.26],[7544,1.98],[7560,1.13],[7579,1.32],[7595,1.17],
  [7614,1.45],[7630,1.13],[7649,1.22],[7666,1.75],[7683,1.14],[7697,1.38],[7706,1.13],[7717,1.6],[7740,1.27],[7758,1.15],[7775,1.88],[7792,1.2],
  [7803,1.35],[7821,1.13],[7837,1.52],[7855,1.23],[7871,1.13],[7890,1.68],[7909,1.17],[7926,1.42],[7944,1.13],[7960,1.3],[7979,1.82],[7995,1.14],
  [8014,1.25],[8030,1.56],[8049,1.13],[8066,1.38],[8083,1.19],[8097,1.13],[8106,1.72],[8117,1.28],[8140,1.13],[8158,1.48],[8175,1.16],[8192,1.95],
  [8203,1.13],[8221,1.33],[8237,1.21],[8255,1.62],[8271,1.13],[8290,1.4],[8309,1.18],[8326,1.13],[8344,1.78],[8360,1.26],[8379,1.13],[8395,1.52],
  [8414,1.15],[8430,1.36],[8449,1.13],[8466,1.9],[8483,1.22],[8497,1.13],[8506,1.45],[8517,1.17],[8540,1.64],[8558,1.13],[8575,1.3],[8592,1.2],
  [8603,1.13],[8621,1.55],[8637,1.25],[8655,1.13],[8671,1.84],[8690,1.16],[8709,1.38],[8726,1.13],[8744,1.28],[8760,1.7],[8779,1.14],[8795,1.46],
  [8814,1.13],[8830,1.22],[8849,1.6],[8866,1.13],[8883,1.34],[8897,1.98],[8906,1.18],[8917,1.13],[8940,1.42],[8958,1.26],[8975,1.13],[8992,1.58],
  [9003,1.2],[9021,1.13],[9037,1.75],[9055,1.3],[9071,1.13],[9090,1.48],[9109,1.16],[9126,1.88],[9144,1.13],[9160,1.36],[9179,1.22],[9195,1.13],
  [9214,1.62],[9230,1.27],[9249,1.13],[9266,1.44],[9283,1.17],[9297,1.8],[9306,1.13],[9317,1.32],[9340,1.55],[9358,1.13],[9375,1.24],[9392,1.68],
  [9403,1.15],[9421,1.13],[9437,1.4],[9455,1.92],[9471,1.2],[9490,1.13],[9509,1.5],[9526,1.28],[9544,1.13],[9560,1.65],
  [9760,1.35],[9779,1.13],[9795,1.58],[9814,1.22],[9830,1.13],[9849,1.82],[9866,1.3],[9883,1.13],[9897,1.46],
  [9906,1.17],[9917,1.66],[9940,1.13],[9958,1.38],[9975,1.25],[9992,1.9]
];
// No-LBFGS-20: evaluations 9579 to 9747
const noLbfgsWindow = [
  [9579,2.79],[9581,1.44],
  [9582,1.218],[9583,1.104],[9584,1.048],[9585,1.02],[9586,1.006],[9587,0.999],[9588,0.994],[9589,0.994],[9590,0.994],
  [9592,3.59],[9594,1.64],
  [9596,1.156],[9597,1.073],[9598,1.033],[9599,1.013],[9600,1.002],[9601,0.9965],[9602,0.994],[9603,0.994],[9604,0.994],[9605,0.994],
  [9607,2.28],[9609,1.31],
  [9610,1.151],[9611,1.07],[9612,1.032],[9613,1.012],[9614,1.002],[9615,0.9965],[9616,0.994],[9617,0.994],[9618,0.994],[9619,0.994],[9620,0.994],
  [9622,3.04],[9624,1.5],
  [9626,1.118],[9627,1.055],[9628,1.024],[9629,1.008],[9630,1.0],[9631,0.995],[9632,0.994],[9633,0.994],[9634,0.994],
  [9636,4.35],[9638,1.83],
  [9640,1.204],[9641,1.097],[9642,1.045],[9643,1.019],[9644,1.006],[9645,1.0],[9646,0.995],[9647,0.994],[9648,0.994],[9649,0.994],[9650,0.994],[9651,0.994],[9652,0.994],
  [9653,2.9],[9655,1.45],
  [9656,1.218],[9657,1.104],[9658,1.048],[9659,1.02],[9660,1.006],[9661,1.0],[9662,0.995],[9663,0.994],[9664,0.994],[9665,0.994],[9666,0.994],[9667,0.994],[9668,0.994],[9669,0.994],[9670,0.994],
  [9672,3.07],[9674,1.51],
  [9676,1.12],[9677,1.056],[9678,1.025],[9679,1.009],[9680,1.0],[9681,0.996],[9682,0.994],[9683,0.994],[9684,0.994],[9685,0.994],
  [9686,3.7],[9688,1.67],
  [9690,1.162],[9691,1.078],[9692,1.035],[9693,1.014],[9694,1.004],[9695,0.998],[9696,0.994],[9697,0.994],[9698,0.994],[9699,0.994],[9700,0.994],[9701,0.994],
  [9702,1.76],
  [9704,1.18],[9705,1.085],[9706,1.038],[9707,1.014],[9708,1.003],[9709,0.997],[9710,0.994],[9711,0.994],[9712,0.994],[9713,0.994],[9714,0.994],
  [9716,3.07],[9718,1.51],
  [9720,1.12],[9721,1.055],[9722,1.024],[9723,1.007],[9724,0.999],[9725,0.995],[9726,0.994],[9727,0.994],[9728,0.994],[9729,0.994],
  [9730,3.23],[9732,1.55],
  [9734,1.13],[9735,1.061],[9736,1.026],[9737,1.009],[9738,1.0],[9739,0.996],[9740,0.994],[9741,0.994],[9742,0.994],[9743,0.994],[9744,0.994],
  [9745,4.1],[9746,2.5]
];

// Subgradient Method
const subgradAnchors = [
  [0,1.82],[2,1.7],[5,1.55],[10,1.42],[20,1.32],[40,1.26],[80,1.21],[150,1.18],[300,1.16],[600,1.145],
  [1000,1.135],[1500,1.125],[2000,1.118],[3000,1.108],[4000,1.1],[5000,1.095],[6000,1.091],[7000,1.088],
  [8000,1.086],[9000,1.085],[10000,1.084]
];
const windowFirstEval = 9580;
const subgradWindow = [
  1.084,1.084,1.084,1.084,1.084,1.084,1.084,1.084,1.084,1.084,1.084,1.084,1.084,1.084,
  1.084,1.084,1.084,1.084,1.084,1.084,1.084,1.084,1.084,1.084,1.084,1.084,1.084,1.084,
  1.084,1.084,1.084,1.084,1.084,1.084,1.084,1.084,1.084,1.084,1.084,1.084,1.084,1.084,
  1.084,1.084,1.084,1.084,1.084,1.084,1.084,1.084,1.084,1.084,1.084,1.084,1.084,1.084,
  1.084,1.084,1.084,1.084,1.084,1.084,1.084,1.084,1.084,1.084,1.084,1.084,1.084,1.084,
  1.084,1.084,1.084,1.084,1.084,1.084,1.084,1.084,1.084,1.084,1.084,1.084,1.084,1.084,
  1.084,1.084,1.084,1.084,1.084,1.084,1.084,1.084,1.084,1.084,1.084,1.084,1.084,1.084,
  1.084,1.084,1.084,1.084,1.084,1.084,1.084,1.084,1.084,1.084,1.084,1.084,1.084,1.084,
  1.084,1.084,1.084,1.084,1.084,1.084,1.084,1.084,1.084,1.084,1.084,1.084,1.084,1.084,
  1.084,1.084,1.084,1.084,1.084,1.084,1.084,1.084,1.084,1.084,1.084,1.084,1.084,1.084,
  1.084,1.084,1.084,1.084,1.084,1.084,1.084,1.084,1.084,1.084,1.084,1.084,1.084,1.084,
  1.084,1.084,1.084,1.084,1.084,1.084,1.084,1.084,1.084,1.084,1.084,1.084,1.084,1.084
];

// Sc-LBFGS-20
const scFirstEvals = [[0,3.35],[1,1.88],[2,1.8],[3,1.73]];
const scAnchors = [
  [4,1.68],[6,1.62],[10,1.55],[20,1.46],[35,1.38],[60,1.31],[100,1.26],[150,1.23],[250,1.2],[400,1.17],
  [600,1.14],[900,1.115],[1300,1.095],[1900,1.075],[2500,1.055],[3000,1.04],[3500,1.02],[4000,1.0],
  [5000,0.965],[6200,0.94],[7400,0.918],[8600,0.888],[9300,0.872],[9500,0.862],[9560,0.85],[9580,0.844],
  [9617,0.82],[9620,0.795],[9622,0.72],[9632,0.693],[9640,0.647],[9650,0.626],[9680,0.61],[9700,0.597],
  [9720,0.579],[9747,0.557],[9800,0.535],[9880,0.51],[9950,0.49],[10000,0.47]
];
const scWindow = [
  0.8435,0.847,0.845,0.844,0.844,0.844,0.844,0.844,0.844,0.843,
  0.843,0.843,0.840,0.844,0.841,0.839,0.838,0.837,0.836,0.835,
  0.834,0.834,0.833,0.832,0.832,0.831,0.830,0.830,0.829,0.829,
  0.828,0.829,0.827,0.827,0.823,0.822,0.822,0.820,0.812,0.803,
  0.795,0.757,0.719,1.118,0.774,0.860,0.765,0.815,0.742,0.736,
  0.722,0.706,0.693,0.696,0.709,0.688,0.684,0.680,0.675,0.662,
  0.647,0.821,0.719,0.668,0.643,0.645,0.642,0.636,0.634,0.630,
  0.626,0.623,0.623,0.623,0.623,0.623,0.626,0.624,0.623,0.623,
  0.623,0.622,0.620,0.620,0.619,0.626,0.622,0.620,0.618,0.618,
  0.618,0.617,0.617,0.616,0.616,0.615,0.615,0.616,0.614,0.611,
  0.610,0.610,0.609,0.608,0.606,0.606,0.605,0.604,0.603,0.602,
  0.600,0.601,0.603,0.601,0.598,0.595,0.594,0.593,0.592,0.606,
  0.597,0.593,0.589,0.588,0.588,0.588,0.588,0.588,0.587,0.587,
  0.586,0.585,0.585,0.584,0.584,0.584,0.583,0.582,0.581,0.579,
  0.579,0.579,0.579,0.579,0.578,0.577,0.577,0.577,0.579,0.577,
  0.576,0.576,0.575,0.575,0.575,0.575,0.575,0.574,0.572,0.570,
  0.568,0.564,0.565,0.563,0.562,0.561,0.558,0.557
];

// ---------------- drawing ----------------
const svg = d3.select("#chart");
const axisColor = "#262626";
const fontFamily = "'Liberation Sans', Arial, Helvetica, sans-serif";
const dotR = 1.75;
const L = 72, R = 1049;

const subgradWindowPts = subgradWindow.map((f, i) => [windowFirstEval + i, f]);
const scWindowPts = scWindow.map((f, i) => [windowFirstEval + i, f]);

const panels = [
  { top: 41, bottom: 418, kind: "linear", labelGap: 52.5,
    x: d3.scaleLinear([0, 10000], [L, R]),
    y: d3.scaleLinear([1.07e-5, 5], [418, 41]),
    xTicks: evalTicks, yTicks: linearFTicks, legend: { x0: 839.5, y0: 41, x1: 1048, y1: 123, mx: 871.5, tx: 902, rows: [53.3, 72.3, 91.7, 111] } },
  { top: 539, bottom: 916, kind: "log", labelGap: 52.5,
    x: d3.scaleLinear([0, 10000], [L, R]),
    y: d3.scaleLog([1.07e-5, 5], [916, 539]),
    xTicks: evalTicks, yTicks: logFTicks, legend: { x0: 78.5, y0: 830.5, x1: 286.5, y1: 912.5, mx: 110.7, tx: 140.5, rows: [844, 862.7, 882.3, 901] } },
  { top: 1037, bottom: 1414, kind: "window", labelGap: 49,
    x: d3.scaleLinear([9579, 9747.4], [L, R]),
    y: d3.scaleLog([0.559, 1.241], [1414, 1037]),
    xTicks: windowEvalTicks, yTicks: windowFTicks, legend: { x0: 78.5, y0: 1328.5, x1: 286.5, y1: 1411, mx: 110.7, tx: 141, rows: [1341.7, 1360.7, 1380.7, 1399.3] } }
];

// title
svg.append("text")
  .attr("x", (L + R) / 2).attr("y", 32.5)
  .attr("text-anchor", "middle")
  .attr("font-family", fontFamily).attr("font-size", 21.5).attr("font-weight", "bold")
  .attr("fill", "#000")
  .text("Nonsmooth Nesterov Les Houches Function, n= 500");

function dots(g, data, x, y, color) {
  g.append("g").selectAll("circle").data(data).join("circle")
    .attr("cx", d => x(d[0])).attr("cy", d => y(d[1]))
    .attr("r", dotR).attr("fill", color);
}

function minorLogTicks(domain) {
  const out = [];
  const lo = Math.floor(Math.log10(domain[0])), hi = Math.ceil(Math.log10(domain[1]));
  for (let e = lo; e <= hi; e++) {
    for (let m = 2; m <= 9; m++) {
      const v = m * Math.pow(10, e);
      if (v >= domain[0] && v <= domain[1]) out.push(v);
    }
  }
  return out;
}

function minorWindowTicks(domain, majors) {
  const out = [];
  for (let k = 28; k <= 62; k++) {
    const v = k / 50;
    if (v >= domain[0] && v <= domain[1] && !majors.some(m => Math.abs(m - v) < 1e-9)) out.push(v);
  }
  return out;
}

function styleAxis(g) {
  g.attr("font-family", fontFamily).attr("font-size", 16);
  g.selectAll(".domain").attr("stroke", axisColor).attr("stroke-width", 1);
  g.selectAll(".tick line").attr("stroke", axisColor).attr("stroke-width", 1);
  g.selectAll(".tick text").attr("fill", axisColor);
}

panels.forEach((p, idx) => {
  const g = svg.append("g");
  const clipId = "plot-clip-" + idx;
  svg.append("defs").append("clipPath").attr("id", clipId)
    .append("rect").attr("x", L).attr("y", p.top).attr("width", R - L).attr("height", p.bottom - p.top);

  const plot = g.append("g").attr("clip-path", `url(#${clipId})`);
  const x = p.x, y = p.y;

  if (p.kind !== "window") {
    // Full BFGS dense band
    plot.append("path").datum(bfgsBand)
      .attr("d", d3.area().x(d => x(d[0])).y0(d => y(d[1])).y1(d => y(d[2])))
      .attr("fill", "#000").attr("stroke", "#000").attr("stroke-width", 3).attr("stroke-linejoin", "round");
    dots(plot, bfgsScatter, x, y, "#000");

    // No-LBFGS-20 floor band
    const band = noLbfgsFloor.map((d, i) => [d[0], d[1], noLbfgsCrest[i][1]]);
    plot.append("path").datum(band)
      .attr("d", d3.area().x(d => x(d[0])).y0(d => y(d[1])).y1(d => y(d[2])))
      .attr("fill", "#00ffff").attr("stroke", "#00ffff").attr("stroke-width", 3).attr("stroke-linejoin", "round");
    dots(plot, noLbfgsCloudLower, x, y, "#00ffff");
    dots(plot, noLbfgsCloud, x, y, "#00ffff");
    dots(plot, noLbfgsWindow, x, y, "#00ffff");

    // Subgradient Method
    plot.append("path").datum(subgradAnchors)
      .attr("d", d3.line().x(d => x(d[0])).y(d => y(d[1])))
      .attr("fill", "none").attr("stroke", "#0000ff").attr("stroke-width", 4.5)
      .attr("stroke-linejoin", "round").attr("stroke-linecap", "round");
    dots(plot, subgradWindowPts, x, y, "#0000ff");

    // Sc-LBFGS-20
    plot.append("path").datum(scAnchors)
      .attr("d", d3.line().x(d => x(d[0])).y(d => y(d[1])))
      .attr("fill", "none").attr("stroke", "#ff00ff").attr("stroke-width", 4)
      .attr("stroke-linejoin", "round").attr("stroke-linecap", "round");
    dots(plot, scWindowPts, x, y, "#ff00ff");
    dots(plot, scFirstEvals, x, y, "#ff00ff");
  } else {
    dots(plot, noLbfgsWindow, x, y, "#00ffff");
    dots(plot, subgradWindowPts, x, y, "#0000ff");
    dots(plot, scWindowPts, x, y, "#ff00ff");
  }

  // axes: bottom (labelled), top (mirrored ticks)
  const xFmt = d3.format("d");
  g.append("g").attr("transform", `translate(0,${p.bottom})`)
    .call(d3.axisBottom(x).tickValues(p.xTicks).tickFormat(xFmt).tickSizeInner(-10).tickSizeOuter(0).tickPadding(13))
    .call(styleAxis);
  g.append("g").attr("transform", `translate(0,${p.top})`)
    .call(d3.axisTop(x).tickValues(p.xTicks).tickFormat(() => "").tickSizeInner(-10).tickSizeOuter(0))
    .call(styleAxis);

  // y axes
  let minors = [];
  if (p.kind === "log") minors = minorLogTicks(y.domain());
  if (p.kind === "window") minors = minorWindowTicks(y.domain(), p.yTicks);

  const yFmt = p.kind === "log" ? (() => "") : d3.format("~g");
  g.append("g").attr("transform", `translate(${L},0)`)
    .call(d3.axisLeft(y).tickValues(p.yTicks).tickFormat(yFmt).tickSizeInner(-10).tickSizeOuter(0).tickPadding(7))
    .call(styleAxis);
  g.append("g").attr("transform", `translate(${R},0)`)
    .call(d3.axisRight(y).tickValues(p.yTicks).tickFormat(() => "").tickSizeInner(-10).tickSizeOuter(0))
    .call(styleAxis);
  if (minors.length) {
    g.append("g").attr("transform", `translate(${L},0)`)
      .call(d3.axisLeft(y).tickValues(minors).tickFormat(() => "").tickSizeInner(-5.5).tickSizeOuter(0))
      .call(styleAxis);
    g.append("g").attr("transform", `translate(${R},0)`)
      .call(d3.axisRight(y).tickValues(minors).tickFormat(() => "").tickSizeInner(-5.5).tickSizeOuter(0))
      .call(styleAxis);
  }

  // power-of-ten labels
  if (p.kind === "log") {
    p.yTicks.forEach(v => {
      const t = g.append("text")
        .attr("x", 68).attr("y", y(v) + 7)
        .attr("text-anchor", "end")
        .attr("font-family", fontFamily).attr("font-size", 16).attr("fill", axisColor);
      t.append("tspan").text("10");
      t.append("tspan").attr("dy", -8.5).attr("font-size", 11).text(String(Math.round(Math.log10(v))));
    });
  }

  // axis labels
  g.append("text")
    .attr("x", (L + R) / 2).attr("y", p.bottom + p.labelGap)
    .attr("text-anchor", "middle")
    .attr("font-family", fontFamily).attr("font-size", 21.5).attr("fill", axisColor)
    .text("Total function evaluations");
  g.append("text")
    .attr("transform", `translate(32,${(p.top + p.bottom) / 2}) rotate(-90)`)
    .attr("text-anchor", "middle")
    .attr("font-family", fontFamily).attr("font-size", 21.5).attr("fill", axisColor)
    .text("f");

  // legend
  const lg = p.legend;
  const leg = g.append("g");
  leg.append("rect")
    .attr("x", lg.x0).attr("y", lg.y0).attr("width", lg.x1 - lg.x0).attr("height", lg.y1 - lg.y0)
    .attr("fill", "#fff").attr("stroke", axisColor).attr("stroke-width", 1);
  seriesNames.forEach((name, i) => {
    leg.append("circle").attr("cx", lg.mx).attr("cy", lg.rows[i]).attr("r", dotR).attr("fill", seriesColors[i]);
    leg.append("text").attr("x", lg.tx).attr("y", lg.rows[i] + 5.3)
      .attr("font-family", fontFamily).attr("font-size", 15).attr("fill", "#000")
      .text(name);
  });
});
</script>
</body>
</html>
